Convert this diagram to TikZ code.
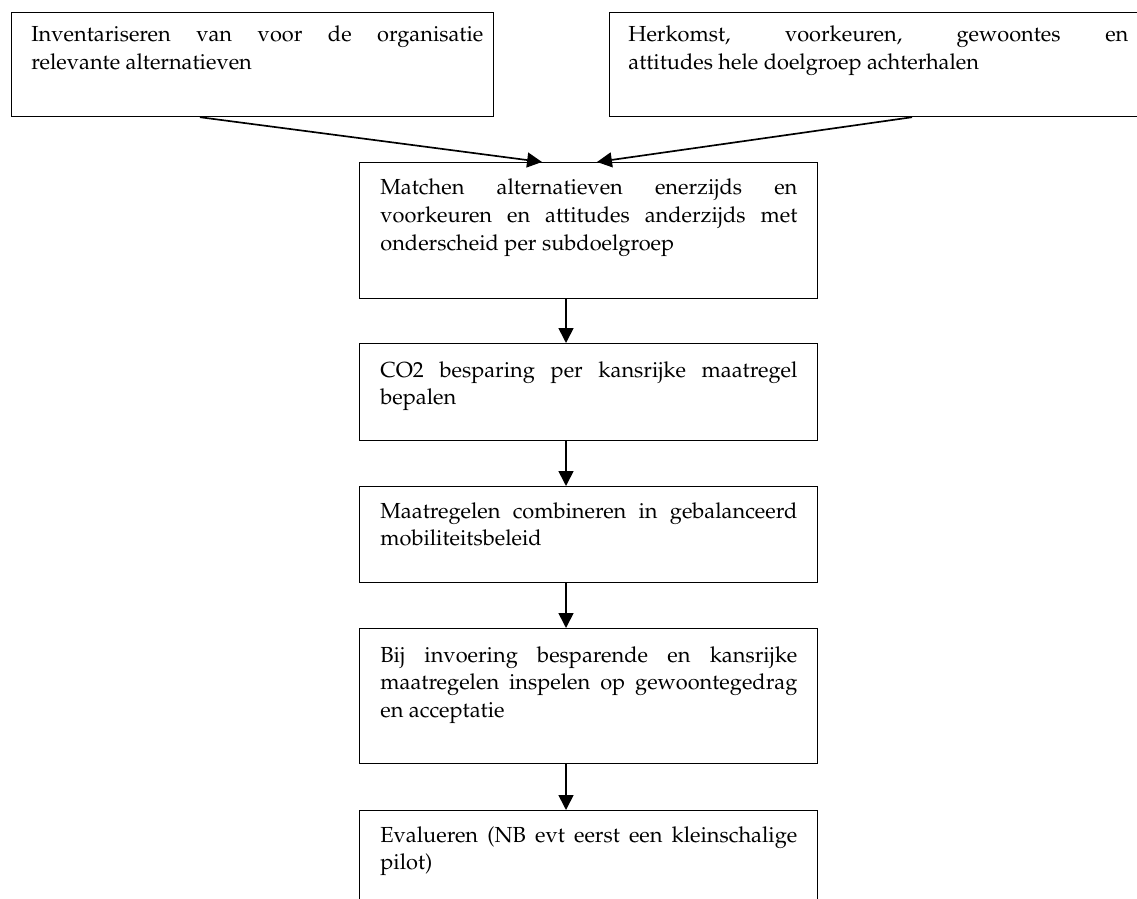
\documentclass[tikz,border=0pt]{standalone}
\usepackage[T1]{fontenc}
\usepackage{mathpazo}
\usepackage{tikz}
\usetikzlibrary{positioning, calc, arrows.meta}

% one pixel of the layout
\newcommand{\pix}{0.537pt}

\tikzset{
  stap/.style={draw, line width=0.65pt, inner sep=0pt, anchor=north west},
  tekst/.style={anchor=base west, inner sep=0pt, align=justify,
    font=\fontsize{11.7}{14.8}\selectfont},
  pijl/.style={-{Triangle[length=8pt, width=8pt]}, line width=0.9pt}
}

\begin{document}
\begin{tikzpicture}[x=\pix, y=-\pix]
    \useasboundingbox (0,0) rectangle (1137,899);
    \clip (0,0) rectangle (1137,899);

    % Two starting boxes
    \node[stap, minimum width=482*\pix, minimum height=104*\pix] (b1) at (11,12) {};
    \node[stap, minimum width=540*\pix, minimum height=104*\pix] (b2) at (609,12) {};
    \node[tekst, text width=452*\pix] (t1) at ($(b1.north west)+(20,30)$)
      {Inventariseren van voor de organisatie\linebreak relevante alternatieven};
    \node[tekst, text width=500*\pix] (t2) at ($(b2.north west)+(19,30)$)
      {Herkomst, voorkeuren, gewoontes en\linebreak attitudes hele doelgroep achterhalen};

    % Chain of steps
    \foreach \n/\y/\h in {3/162/136, 4/343/97, 5/486/96, 6/628/135, 7/810/120} {
      \node[stap, minimum width=458*\pix, minimum height=\h*\pix] (b\n) at (359,\y) {};
    }

    % Texts of the steps
    \foreach \n/\d/\txt in {
        3/33/{Matchen alternatieven enerzijds en\linebreak voorkeuren en attitudes anderzijds met\linebreak onderscheid per subdoelgroep},
        4/34/{CO2 besparing per kansrijke maatregel\linebreak bepalen},
        5/32/{Maatregelen combineren in gebalanceerd\linebreak mobiliteitsbeleid},
        6/34/{Bij invoering besparende en kansrijke\linebreak maatregelen inspelen op gewoontegedrag\linebreak en acceptatie},
        7/32/{Evalueren (NB evt eerst een kleinschalige\linebreak pilot)}} {
      \node[tekst, text width=417*\pix] (t\n) at ($(b\n.north west)+(21,\d)$) {\txt};
    }

    % Arrows
    \draw[pijl] ($(b1.south west)+(189,0)$) -- ($(b3.north west)+(183,0)$);
    \draw[pijl] ($(b2.south west)+(303,0)$) -- ($(b3.north west)+(238,0)$);
    \foreach \a/\b in {3/4, 4/5, 5/6, 6/7} {
      \draw[pijl] ($(b\a.south west)+(207,0)$) -- ($(b\b.north west)+(207,0)$);
    }
\end{tikzpicture}
\end{document}
